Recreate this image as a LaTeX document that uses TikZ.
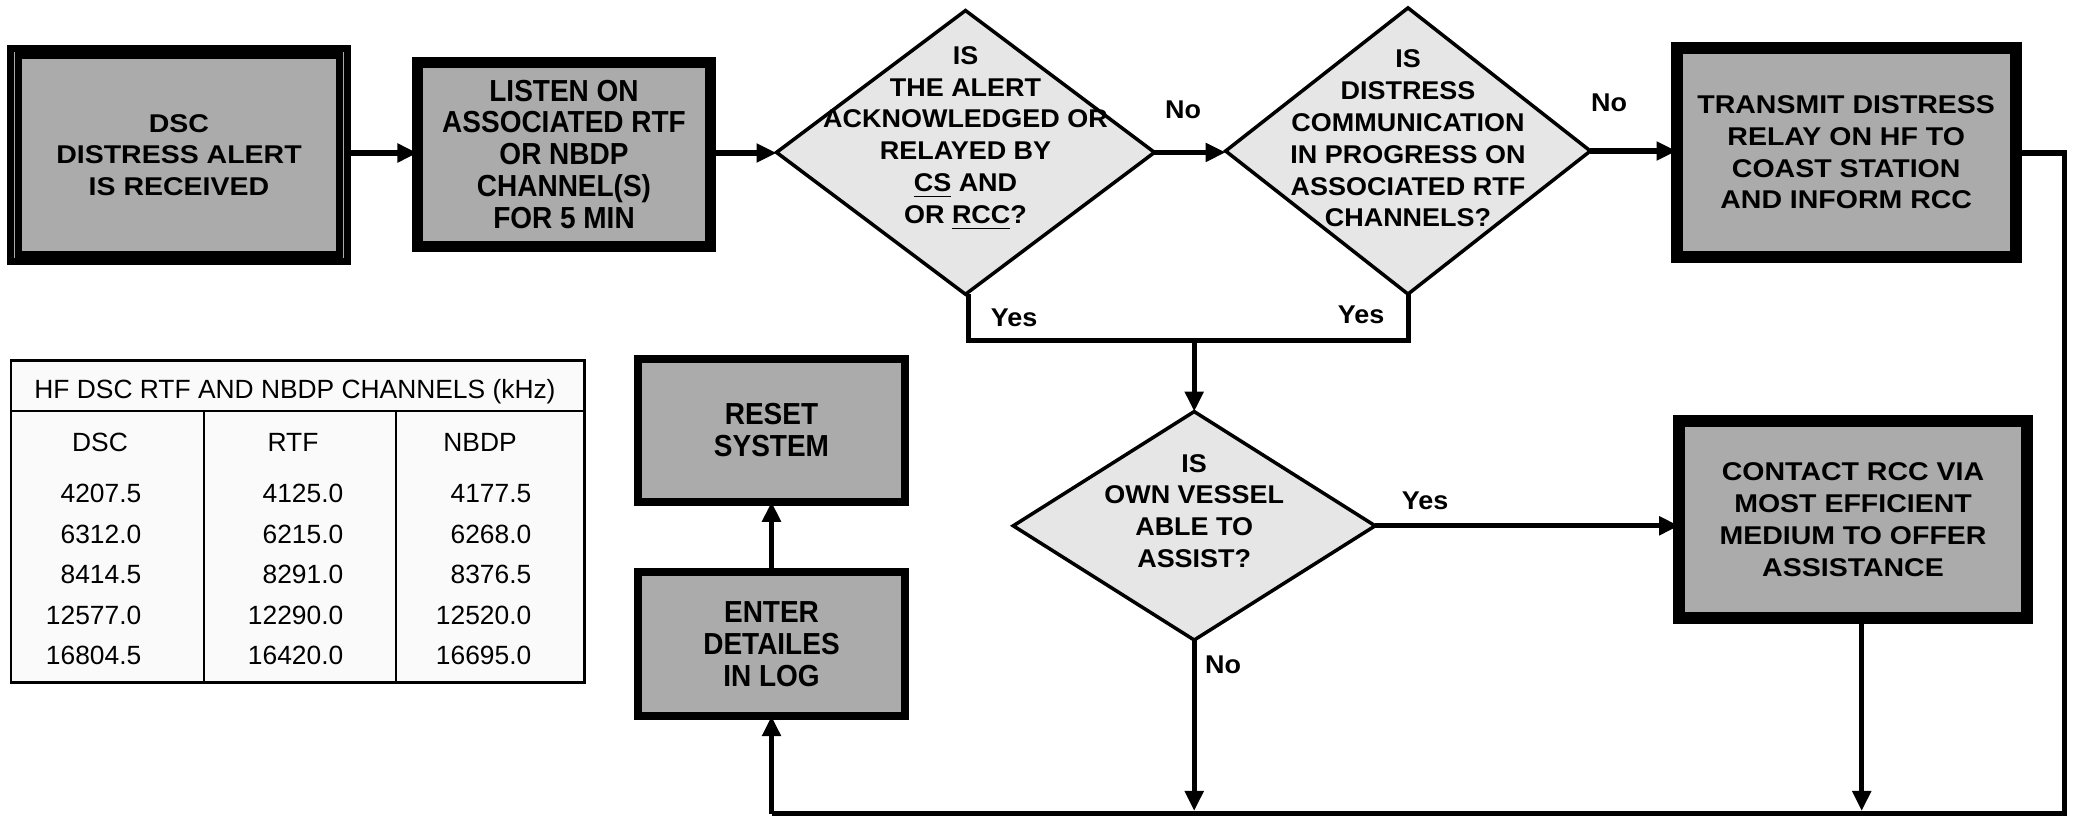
\documentclass[tikz,border=0pt]{standalone}
\usepackage{fontspec}
\setmainfont{Liberation Sans}
\newfontfamily\bigfont[FakeStretch=0.92]{Liberation Sans Bold}
\newfontfamily\widefont[FakeStretch=1.11]{Liberation Sans Bold}
\newfontfamily\diafont[FakeStretch=1.05]{Liberation Sans Bold}
\newfontfamily\labfont[FakeStretch=1.05]{Liberation Sans Bold}
\usetikzlibrary{shapes.geometric,arrows.meta}
\definecolor{boxgray}{HTML}{ABABAB}
\definecolor{diagray}{HTML}{E6E6E6}
\definecolor{tabfill}{HTML}{FAFAFA}
\begin{document}
\begin{tikzpicture}[x=0.01cm,y=-0.01cm,
  proc/.style={draw=black, fill=boxgray, rectangle, inner sep=0pt, outer sep=0pt},
  dia/.style={draw=black, fill=diagray, diamond, inner sep=0pt, outer sep=0pt, line width=1pt},
  bigtext/.style={font=\bigfont\fontsize{8.65}{9.05}\selectfont, align=center, inner sep=0pt},
  widetext/.style={font=\widefont\fontsize{7.3}{9.05}\selectfont, align=center, inner sep=0pt},
  diatext/.style={font=\diafont\fontsize{7.3}{9.05}\selectfont, align=center, inner sep=0pt},
  labtext/.style={font=\labfont\fontsize{7.3}{8}\selectfont, inner sep=0pt},
  conn/.style={line width=0.05cm},
  arr/.style={conn, -{Triangle[length=0.2cm,width=0.18cm]}},
  tabtext/.style={font=\fontsize{7.5}{8}\selectfont, inner sep=0pt},
  tabline/.style={line width=0.6pt},
]
\fill[white] (0,0) rectangle (2078,818);
\useasboundingbox (0,0) rectangle (2078,818);

% boxes
\node[proc, line width=0.07cm, minimum width=3.364cm, minimum height=2.13cm] (b1) at (179,155) {};
\draw[line width=0.07cm] ([shift={(7.5,7.5)}]b1.north west) rectangle ([shift={(-7.5,-7.5)}]b1.south east);
\node[widetext] (t1) at (b1) {DSC\\DISTRESS ALERT\\IS RECEIVED};

\node[proc, line width=0.11cm, minimum width=2.93cm, minimum height=1.84cm] (b2) at (564,154.2) {};
\node[bigtext] (t2) at (b2) {LISTEN ON\\ASSOCIATED RTF\\OR NBDP\\CHANNEL(S)\\FOR 5 MIN};

\node[proc, line width=0.12cm, minimum width=3.39cm, minimum height=2.093cm] (b3) at (1846.2,152.4) {};
\node[widetext] (t3) at (b3) {TRANSMIT DISTRESS\\RELAY ON HF TO\\COAST STATION\\AND INFORM RCC};

\node[proc, line width=0.117cm, minimum width=3.477cm, minimum height=1.973cm] (b4) at (1853,519.5) {};
\node[widetext] (t4) at (b4) {CONTACT RCC VIA\\MOST EFFICIENT\\MEDIUM TO OFFER\\ASSISTANCE};

\node[proc, line width=0.08cm, minimum width=2.663cm, minimum height=1.427cm] (b5) at (771.5,430.4) {};
\node[bigtext] (t5) at (b5) {RESET\\SYSTEM};

\node[proc, line width=0.08cm, minimum width=2.66cm, minimum height=1.437cm] (b6) at (771.5,644.2) {};
\node[bigtext] (t6) at (b6) {ENTER\\DETAILES\\IN LOG};

% diamonds
\node[dia, minimum width=3.777cm, minimum height=2.836cm] (d1) at (965.5,152.4) {};
\node[diatext] (td1) at (965.5,138.5) {IS\\THE ALERT\\ACKNOWLEDGED OR\\RELAYED BY\\\underline{CS} AND\\OR \underline{RCC}?};
\node[dia, minimum width=3.645cm, minimum height=2.86cm] (d2) at (1408,151) {};
\node[diatext] (td2) at (1408,138.5) {IS\\DISTRESS\\COMMUNICATION\\IN PROGRESS ON\\ASSOCIATED RTF\\CHANNELS?};
\node[dia, minimum width=3.617cm, minimum height=2.283cm] (d3) at (1194.2,525.8) {};
\node[diatext] (td3) at (1194.2,511) {IS\\OWN VESSEL\\ABLE TO\\ASSIST?};

% junction coordinates
\coordinate (ja) at (968.8,340.6);
\coordinate (jb) at (1408.8,340.6);
\coordinate (jm) at (d3.north |- ja);
\coordinate (rt) at (2064.8,153);
\coordinate (rb) at (2064.8,813.5);
\coordinate (lb) at (771.5,813.5);
\coordinate (bm) at (1194.2,811);
\coordinate (bc) at (1861.7,811);

% connectors
\draw[arr] (b1.east |- 0,153) -- (b2.west |- 0,153);
\draw[arr] (b2.east |- 0,153) -- (d1.west |- 0,153);
\draw[arr] (d1.east) -- (d2.west |- d1.east);
\draw[arr] (d2.east) -- (b3.west |- d2.east);
\draw[conn] (d1.south -| ja) -- (ja) -- (jb) -- (d2.south -| jb);
\draw[arr] (jm) -- (d3.north);
\draw[arr] (d3.east) -- (b4.west |- d3.east);
\draw[arr] (d3.south) -- (bm);
\draw[arr] (b4.south -| bc) -- (bc);
\draw[conn] (b3.east |- rt) -- (rt) -- (rb) -- (lb);
\draw[arr] (lb) -- (b6.south);
\draw[arr] (b6.north) -- (b5.south);

% labels
\node[labtext] (no1) at (1183,110) {No};
\node[labtext] (no2) at (1609,103) {No};
\node[labtext] (yes1) at (1014,318) {Yes};
\node[labtext] (yes2) at (1361,315) {Yes};
\node[labtext] (yes3) at (1425,501) {Yes};
\node[labtext] (no3) at (1223,665) {No};

% table
\draw[tabline, fill=tabfill] (10.6,360.5) rectangle (584.5,682.5);
\draw[tabline] (10.6,410.8) -- (584.5,410.8);
\draw[tabline] (204.1,410.8) -- (204.1,682.5);
\draw[tabline] (396.3,410.8) -- (396.3,682.5);
\node[tabtext] (th) at (295,392) {HF DSC RTF AND NBDP CHANNELS (kHz)};
\node[tabtext] (c1) at (100,442.6) {DSC};
\node[tabtext] (c2) at (293,442.6) {RTF};
\node[tabtext] (c3) at (480,442.6) {NBDP};
\foreach \y/\a/\b/\c in {493.5/4207.5/4125.0/4177.5, 534/6312.0/6215.0/6268.0, 574.5/8414.5/8291.0/8376.5, 615/12577.0/12290.0/12520.0, 655.5/16804.5/16420.0/16695.0}{
  \node[tabtext, anchor=east] at (142,\y) {\a};
  \node[tabtext, anchor=east] at (344,\y) {\b};
  \node[tabtext, anchor=east] at (532,\y) {\c};
}
\end{tikzpicture}
\end{document}
